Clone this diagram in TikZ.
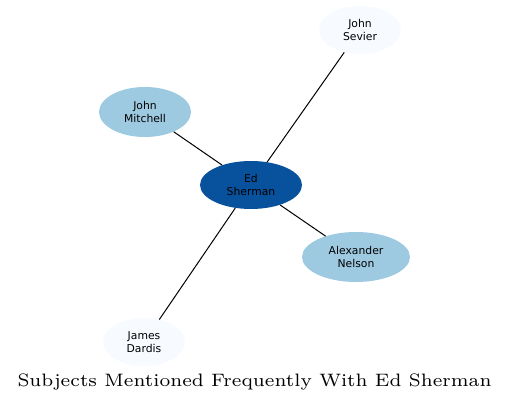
\documentclass[tikz,border=0pt]{standalone}
\usepackage{fontspec}
\newfontfamily\nodefont{DejaVu Sans}
\newfontfamily\titlefont{lmroman7-regular}[Extension=.otf]
\usetikzlibrary{shapes.geometric}
\definecolor{dark}{HTML}{08519C}
\definecolor{mid}{HTML}{9ECAE1}
\definecolor{pale}{HTML}{F7FBFF}
\tikzset{
  person/.style={ellipse, draw=none, inner sep=0pt, align=center, font=\nodefont\fontsize{10.8}{12.5}\selectfont, text=black},
  link/.style={draw=black, line width=1pt}
}
\begin{document}
\begin{tikzpicture}[x=1pt,y=-1pt]
\useasboundingbox (0,0) rectangle (509,403);
\node[person, fill=dark, minimum width=102pt, minimum height=48pt] (ed) at (251,185) {Ed\\Sherman};
\node[person, fill=pale, minimum width=82pt, minimum height=48pt] (sevier) at (360,30) {John\\Sevier};
\node[person, fill=mid, minimum width=92pt, minimum height=50pt] (mitchell) at (145,112) {John\\Mitchell};
\node[person, fill=mid, minimum width=108pt, minimum height=50pt] (nelson) at (356,257) {Alexander\\Nelson};
\node[person, fill=pale, minimum width=82pt, minimum height=48pt] (dardis) at (144,342) {James\\Dardis};
\draw[link] (ed) -- (sevier);
\draw[link] (ed) -- (mitchell);
\draw[link] (ed) -- (nelson);
\draw[link] (ed) -- (dardis);
\node[inner sep=0pt, anchor=base] (title) at (254.5,386.5) {\resizebox{474pt}{\height}{\titlefont\fontsize{18}{20}\selectfont Subjects Mentioned Frequently With Ed Sherman}};
\end{tikzpicture}
\end{document}
